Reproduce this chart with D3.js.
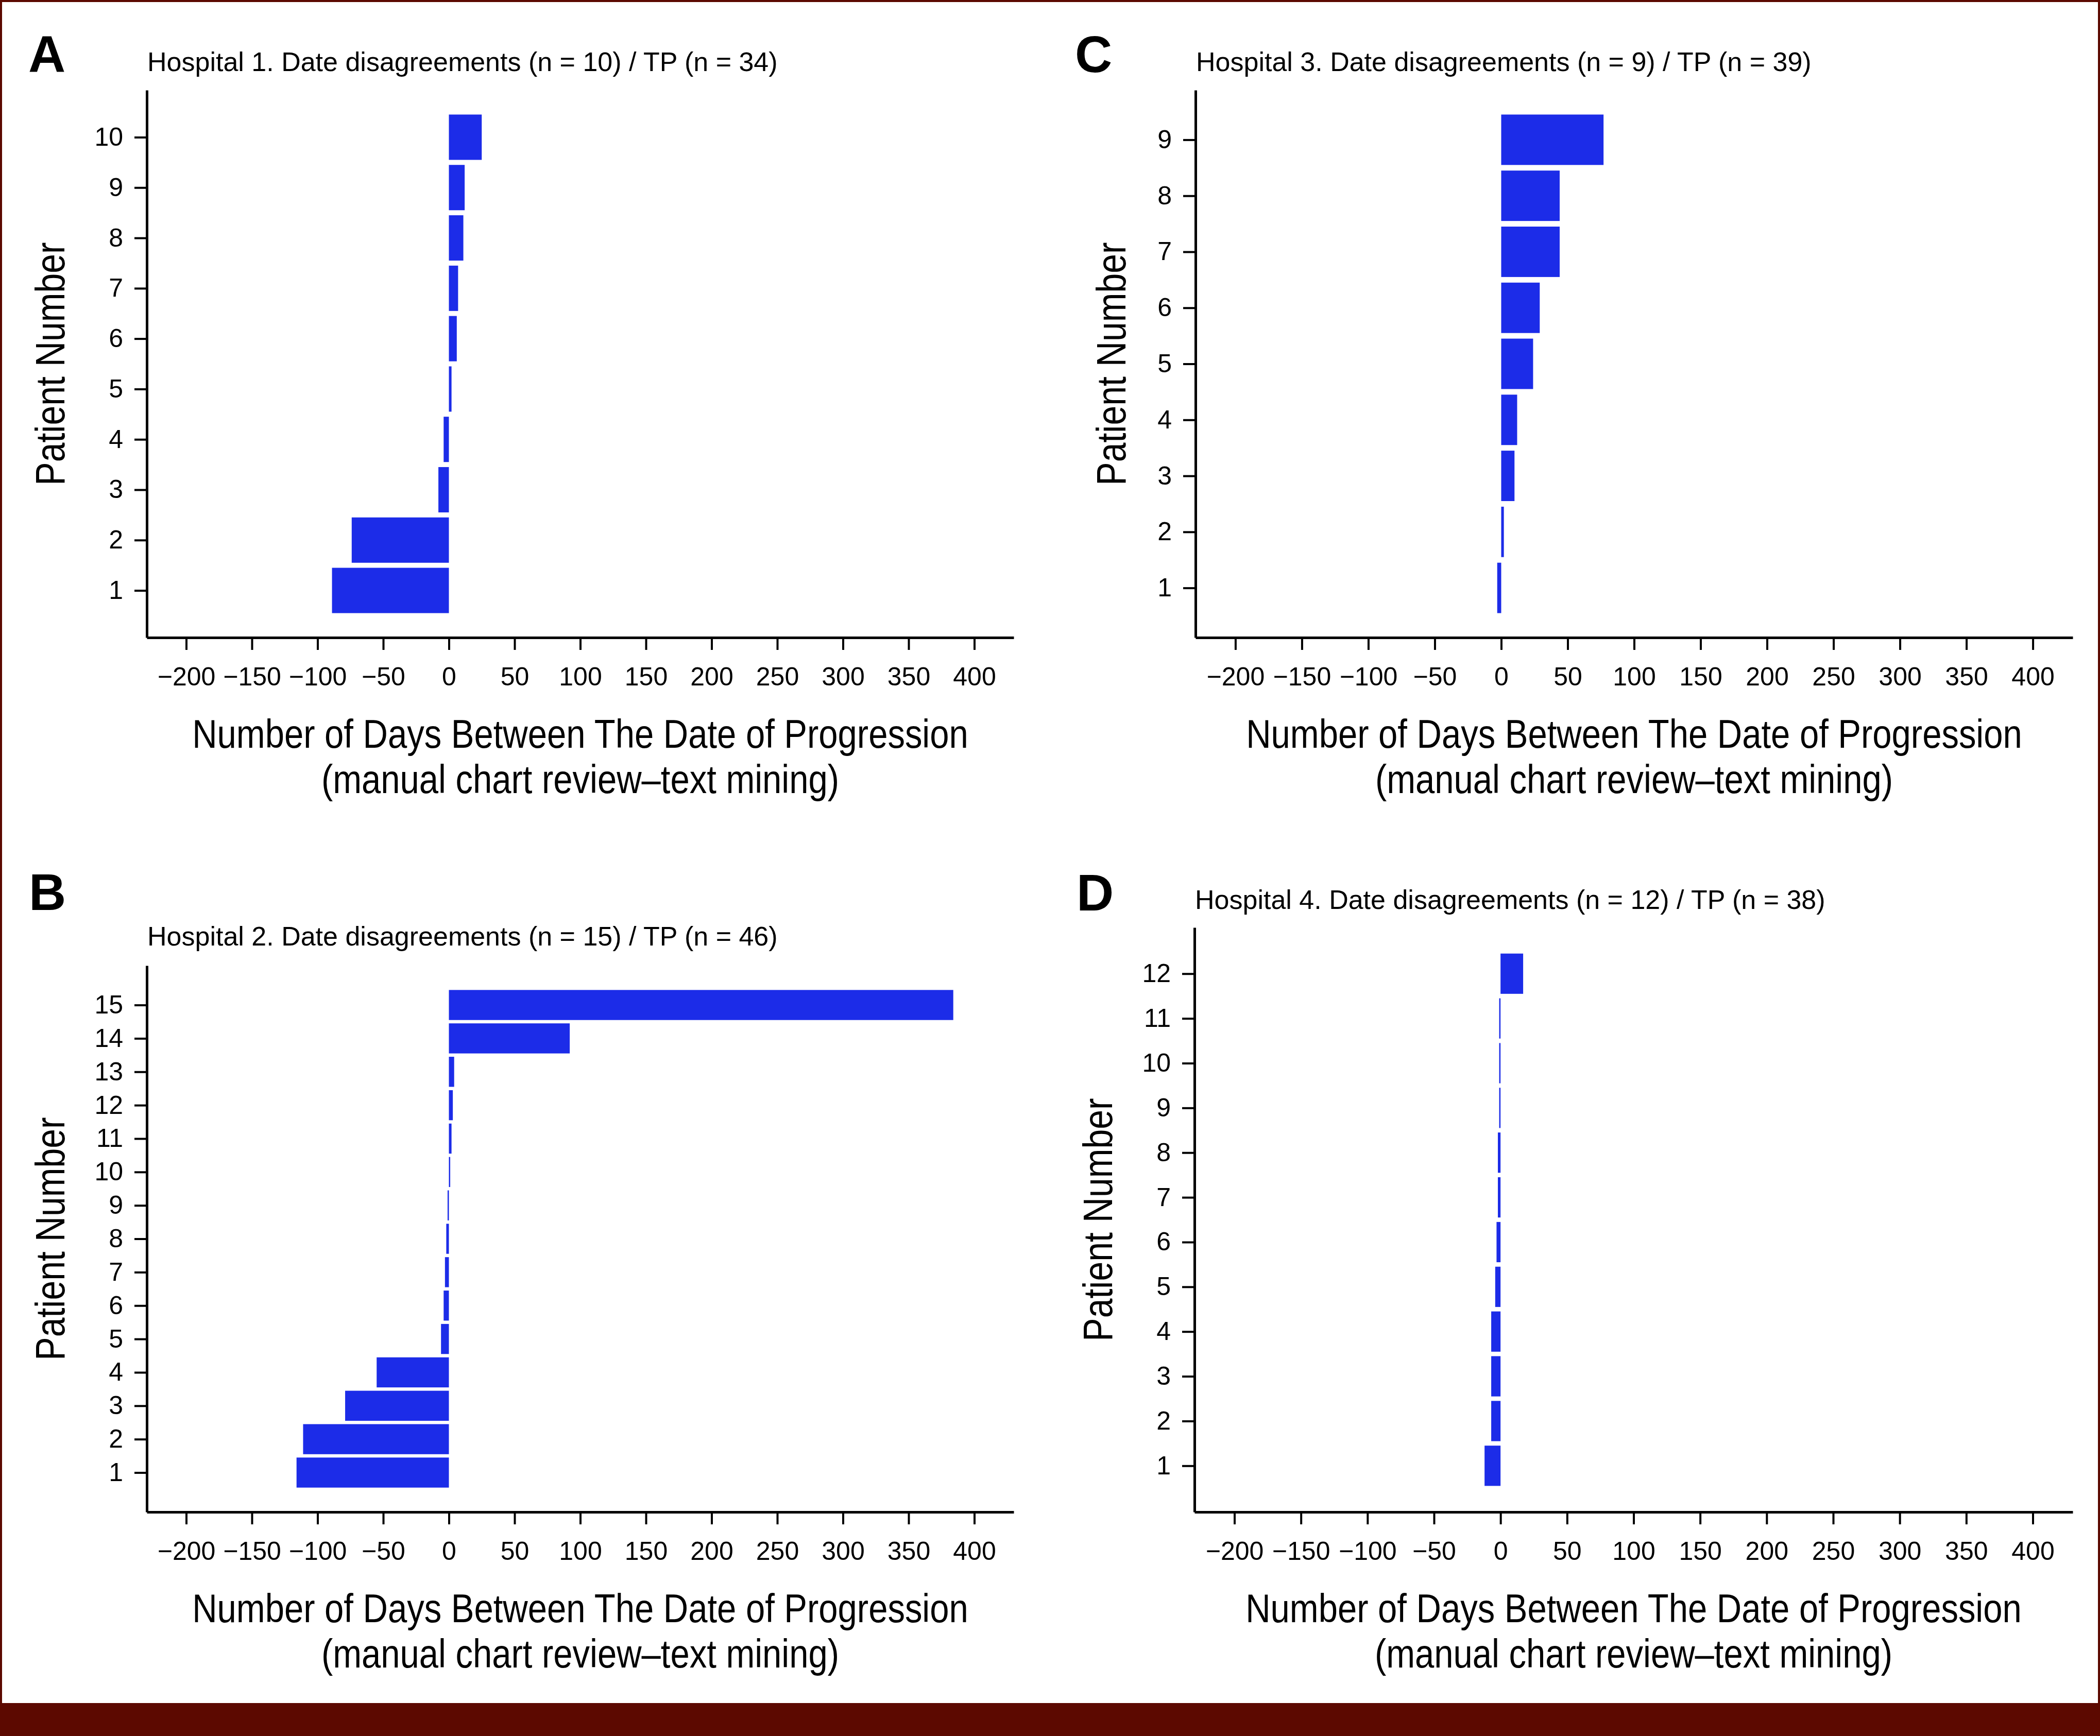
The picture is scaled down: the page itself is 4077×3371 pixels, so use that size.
<!DOCTYPE html>
<html lang="en">
<head>
    <meta charset="UTF-8">
    <title>Date disagreements by hospital</title>
    <script src="https://d3js.org/d3.v7.min.js"></script>
    <style>
        body { margin: 0; background: #fff; }
        text { font-family: "Liberation Sans", Arial, sans-serif; }
    </style>
</head>
<body>
    <div id="chart"></div>
    <script>
        // days between progression dates (manual chart review - text mining), patient 1..n
        const hospital1 = [-89, -74, -8, -4, 2, 6, 7, 11, 12, 25];
        const hospital2 = [-116, -111, -79, -55, -6, -4, -3, -2, -1, 1, 2, 3, 4, 92, 384];
        const hospital3 = [-3, 2, 10, 12, 24, 29, 44, 44, 77];
        const hospital4 = [-12, -7, -7, -7, -4, -3, -2, -2, -1, -1, -1, 17];

        const panel_letters = ["A", "B", "C", "D"];
        const panel_titles = [
            "Hospital 1. Date disagreements (n = 10) / TP (n = 34)",
            "Hospital 2. Date disagreements (n = 15) / TP (n = 46)",
            "Hospital 3. Date disagreements (n = 9) / TP (n = 39)",
            "Hospital 4. Date disagreements (n = 12) / TP (n = 38)"
        ];
        const x_ticks = [-200, -150, -100, -50, 0, 50, 100, 150, 200, 250, 300, 350, 400];
        const x_title = ["Number of Days Between The Date of Progression", "(manual chart review\u2013text mining)"];
        const y_title = "Patient Number";

        const W = 4077, H = 3371;
        const barColor = "#1c2ce8";
        const frameColor = "#5c0900";

        // pixel layout of each panel (left = y axis, right = end of x axis)
        const layout = [
            {data: hospital1, left: 285, right: 1968, top: 175, bottom: 1238, titleY: 138, letterX: 55, letterY: 140, yTitleOff: 160},
            {data: hospital2, left: 285, right: 1968, top: 1875, bottom: 2936, titleY: 1836, letterX: 56, letterY: 1767, yTitleOff: 160},
            {data: hospital3, left: 2321, right: 4024, top: 175, bottom: 1238, titleY: 138, letterX: 2087, letterY: 140, yTitleOff: 136},
            {data: hospital4, left: 2319, right: 4024, top: 1801, bottom: 2936, titleY: 1765, letterX: 2090, letterY: 1768, yTitleOff: 160}
        ];

        const svg = d3.select("#chart")
            .append("svg")
            .attr("width", W)
            .attr("height", H);

        svg.append("rect")
            .attr("width", W)
            .attr("height", H)
            .attr("fill", "#fff");

        layout.forEach((p, k) => {
            const n = p.data.length;
            const pad = 0.049 * (n - 0.1);

            const x = d3.scaleLinear()
                .domain([-230, 430])
                .range([p.left, p.right]);

            const y = d3.scaleLinear()
                .domain([0.55 - pad, n + 0.45 + pad])
                .range([p.bottom, p.top]);

            const g = svg.append("g");

            g.selectAll(".bar")
                .data(p.data)
                .enter()
                .append("rect")
                .attr("x", d => x(Math.min(0, d)))
                .attr("width", d => Math.abs(x(d) - x(0)))
                .attr("y", (d, i) => y(i + 1 + 0.45))
                .attr("height", (d, i) => y(i + 1 - 0.45) - y(i + 1 + 0.45))
                .attr("fill", barColor);

            const xAxis = g.append("g")
                .attr("transform", `translate(0, ${p.bottom})`)
                .call(d3.axisBottom(x)
                    .tickValues(x_ticks)
                    .tickSizeInner(24)
                    .tickSizeOuter(0)
                    .tickPadding(33)
                    .tickFormat(d => d < 0 ? "\u2212" + Math.abs(d) : d));

            const yAxis = g.append("g")
                .attr("transform", `translate(${p.left}, 0)`)
                .call(d3.axisLeft(y)
                    .tickValues(d3.range(1, n + 1))
                    .tickSizeInner(24)
                    .tickSizeOuter(0)
                    .tickPadding(22));

            [xAxis, yAxis].forEach(a => {
                a.select(".domain").attr("stroke-width", 5).attr("stroke", "#000");
                a.selectAll(".tick line").attr("stroke-width", 4).attr("stroke", "#000");
                a.selectAll(".tick text")
                    .attr("font-size", 50)
                    .attr("font-family", "Liberation Sans, Arial, sans-serif")
                    .attr("fill", "#000");
            });

            // panel letter
            svg.append("text")
                .attr("x", p.letterX)
                .attr("y", p.letterY)
                .attr("font-weight", "bold")
                .attr("font-size", 100)
                .text(panel_letters[k]);

            // panel title
            svg.append("text")
                .attr("x", p.left + 1)
                .attr("y", p.titleY)
                .attr("font-size", 52)
                .text(panel_titles[k]);

            // x axis title, two lines, a little condensed
            x_title.forEach((t, j) => {
                svg.append("text")
                    .attr("transform", `translate(${(p.left + p.right) / 2}, ${p.bottom + 214 + 88 * j}) scale(0.87, 1)`)
                    .attr("text-anchor", "middle")
                    .attr("font-size", 77)
                    .text(t);
            });

            // y axis title
            svg.append("text")
                .attr("transform", `translate(${p.left - p.yTitleOff}, ${(p.top + p.bottom) / 2}) rotate(-90) scale(0.85, 1)`)
                .attr("text-anchor", "middle")
                .attr("font-size", 80)
                .text(y_title);
        });

        // journal frame: thin edges and a dark band at the bottom
        svg.append("rect")
            .attr("x", 2)
            .attr("y", 2)
            .attr("width", W - 4)
            .attr("height", H - 4)
            .attr("fill", "none")
            .attr("stroke", frameColor)
            .attr("stroke-width", 4);

        svg.append("rect")
            .attr("x", 0)
            .attr("y", 3307)
            .attr("width", W)
            .attr("height", H - 3307)
            .attr("fill", frameColor);
    </script>
</body>
</html>
